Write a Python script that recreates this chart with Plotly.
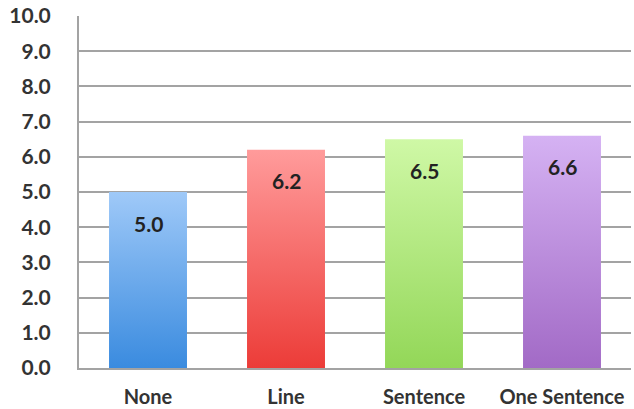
import plotly.graph_objects as go

categories = ["None", "Line", "Sentence", "One Sentence"]
values = [5.0, 6.2, 6.5, 6.6]
value_labels = ["5.0", "6.2", "6.5", "6.6"]
top_colors = ["#9fc9f8", "#ff9b9b", "#cff8a6", "#d5b2f3"]
bottom_colors = ["#3a8bdf", "#ec3c38", "#93d758", "#a26ac6"]
y_ticks = [0, 1, 2, 3, 4, 5, 6, 7, 8, 9, 10]
y_tick_labels = ["0.0", "1.0", "2.0", "3.0", "4.0", "5.0", "6.0", "7.0", "8.0", "9.0", "10.0"]

bar_width = 0.565
font_family = "Lato"

fig = go.Figure()
for i, (cat, v) in enumerate(zip(categories, values)):
    x0, x1 = i - bar_width / 2, i + bar_width / 2
    fig.add_trace(go.Scatter(
        x=[x0, x1, x1, x0, x0],
        y=[0, 0, v, v, 0],
        mode="lines",
        fill="toself",
        line=dict(width=0, color=bottom_colors[i]),
        fillgradient=dict(type="vertical",
                          colorscale=[[0, bottom_colors[i]], [1, top_colors[i]]]),
        name=cat,
        showlegend=False,
        hoverinfo="skip",
    ))

for i, (v, lab) in enumerate(zip(values, value_labels)):
    fig.add_annotation(x=i, y=v, text=lab, showarrow=False, yanchor="middle",
                       yshift=-31, font=dict(family=font_family, size=21, color="#222222", weight="bold"))

fig.update_layout(
    width=634, height=409,
    margin=dict(l=79, r=3, t=16, b=41, autoexpand=False),
    paper_bgcolor="white", plot_bgcolor="white",
    font=dict(family=font_family, size=21, color="#333333"),
    showlegend=False,
)
fig.update_xaxes(
    range=[-0.5, 3.5], tickmode="array", tickvals=list(range(len(categories))),
    ticktext=categories, showgrid=False, zeroline=False,
    showline=True, linecolor="#a3a3a3", linewidth=2,
    ticks="", ticklabelstandoff=10, automargin=False,
    tickfont=dict(family=font_family, size=20, color="#333333", weight="bold"),
)
fig.update_yaxes(
    range=[0, 10], tickmode="array", tickvals=y_ticks, ticktext=y_tick_labels,
    showgrid=True, gridcolor="#a3a3a3", gridwidth=1.5, zeroline=False,
    showline=True, linecolor="#a3a3a3", linewidth=2,
    ticks="", ticklabelstandoff=22, automargin=False,
    tickfont=dict(family=font_family, size=21, color="#333333", weight="bold"),
)

fig.write_html("out.html")
